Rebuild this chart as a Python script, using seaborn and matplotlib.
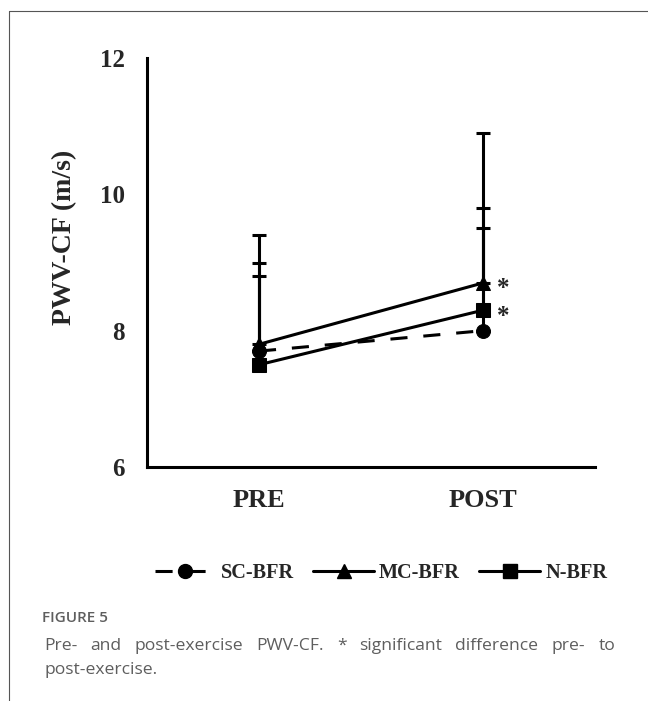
import matplotlib
matplotlib.use("Agg")
import numpy as np
import pandas as pd
import matplotlib.pyplot as plt
from matplotlib.lines import Line2D
import seaborn as sns

# values
phases = ["PRE", "POST"]
groups = ["SC-BFR", "MC-BFR", "N-BFR"]
sc_mean = [7.7, 8.0]
sc_sd = [1.3, 1.8]
mc_mean = [7.8, 8.7]
mc_sd = [1.6, 2.2]
n_mean = [7.5, 8.3]
n_sd = [1.3, 1.2]
significant = ["MC-BFR", "N-BFR"]

caption_title = "FIGURE 5"
caption_line1 = "Pre- and post-exercise PWV-CF. * significant difference pre- to"
caption_line2 = "post-exercise."

means = {"SC-BFR": sc_mean, "MC-BFR": mc_mean, "N-BFR": n_mean}
sds = {"SC-BFR": sc_sd, "MC-BFR": mc_sd, "N-BFR": n_sd}

rows = []
for g in groups:
    for p, m in zip(phases, means[g]):
        rows.append({"phase": p, "group": g, "pwv": m})
df = pd.DataFrame(rows)

sns.set_style("white")
serif = ["Liberation Serif", "DejaVu Serif"]
plt.rcParams["font.family"] = serif

W, H = 648, 701
fig = plt.figure(figsize=(W / 100, H / 100), dpi=100)
ax = fig.add_axes([147 / W, 1 - 467 / H, (595 - 147) / W, (467 - 58) / H])

lw = 2.2
ms = 10
markers = {"SC-BFR": "o", "MC-BFR": "^", "N-BFR": "s"}
dash_pat = (5.6, 5.2)
dashes = {"SC-BFR": dash_pat, "MC-BFR": "", "N-BFR": ""}
palette = {g: "black" for g in groups}

# upper error bars only
for g in groups:
    ax.errorbar(x=[0, 1], y=means[g], yerr=[[0, 0], sds[g]], fmt="none",
                ecolor="black", elinewidth=lw, capsize=5, capthick=lw, zorder=1)

sns.lineplot(data=df, x="phase", y="pwv", hue="group", style="group",
             markers=markers, dashes=dashes, palette=palette, linewidth=lw,
             markersize=ms, markeredgecolor="black", sort=False, legend=False,
             ax=ax, zorder=3)

for g in significant:
    ax.annotate("*", xy=(1, means[g][1]), xytext=(10, -9), textcoords="offset points",
                ha="left", va="baseline", fontsize=18, fontweight="bold")

ax.set_xlim(-0.5, 1.5)
ax.set_ylim(6, 12)
ax.set_yticks([6, 8, 10, 12])
ax.set_xticks([0, 1])
ax.set_xticklabels(phases)
ax.set_xlabel("")
ax.set_ylabel("")
ax.tick_params(axis="y", length=0, pad=16, labelsize=18)
ax.tick_params(axis="x", length=0, pad=16, labelsize=19)
for lab in ax.get_xticklabels() + ax.get_yticklabels():
    lab.set_fontweight("bold")
sns.despine(ax=ax)
for s in ["left", "bottom"]:
    ax.spines[s].set_linewidth(2.2)
    ax.spines[s].set_color("black")

fig.text(65 / W, 1 - 237 / H, "PWV-CF (m/s)", rotation=90, ha="center", va="center",
         fontsize=20, fontweight="bold")

handles = []
for g in groups:
    h = Line2D([], [], color="black", lw=lw, marker=markers[g], markersize=ms)
    if dashes[g]:
        h.set_dashes(dashes[g])
    handles.append(h)
fig.legend(handles, groups, loc="center", bbox_to_anchor=(381 / W, 1 - 573 / H), ncol=3,
           frameon=False, prop={"family": serif, "weight": "bold", "size": 14.6},
           handlelength=3.0, handletextpad=0.25, columnspacing=0.95)

# page frame
fig.add_artist(Line2D([9 / W, 1], [1 - 11 / H, 1 - 11 / H], color="#555555", lw=0.8))
fig.add_artist(Line2D([9 / W, 9 / W], [1 - 11 / H, 0], color="#555555", lw=0.8))

# caption
cap_font = ["Open Sans", "DejaVu Sans"]
grey = "#5e5e5e"
fig.text(42 / W, 1 - 618 / H, caption_title, family=cap_font, fontsize=11,
         fontweight="semibold", color=grey, va="center")

renderer = fig.canvas.get_renderer()
words = caption_line1.split()
widths = []
for w in words:
    t = fig.text(0, 0, w, family=cap_font, fontsize=12.6)
    widths.append(t.get_window_extent(renderer).width)
    t.remove()
left, right = 44, 615
gap = (right - left - sum(widths)) / (len(words) - 1)
x = left
for w, wd in zip(words, widths):
    fig.text(x / W, 1 - 646 / H, w, family=cap_font, fontsize=12.6, color=grey, va="center")
    x += wd + gap
fig.text(44 / W, 1 - 670 / H, caption_line2, family=cap_font, fontsize=12.6, color=grey,
         va="center")

fig.savefig("out.png", dpi=100)
